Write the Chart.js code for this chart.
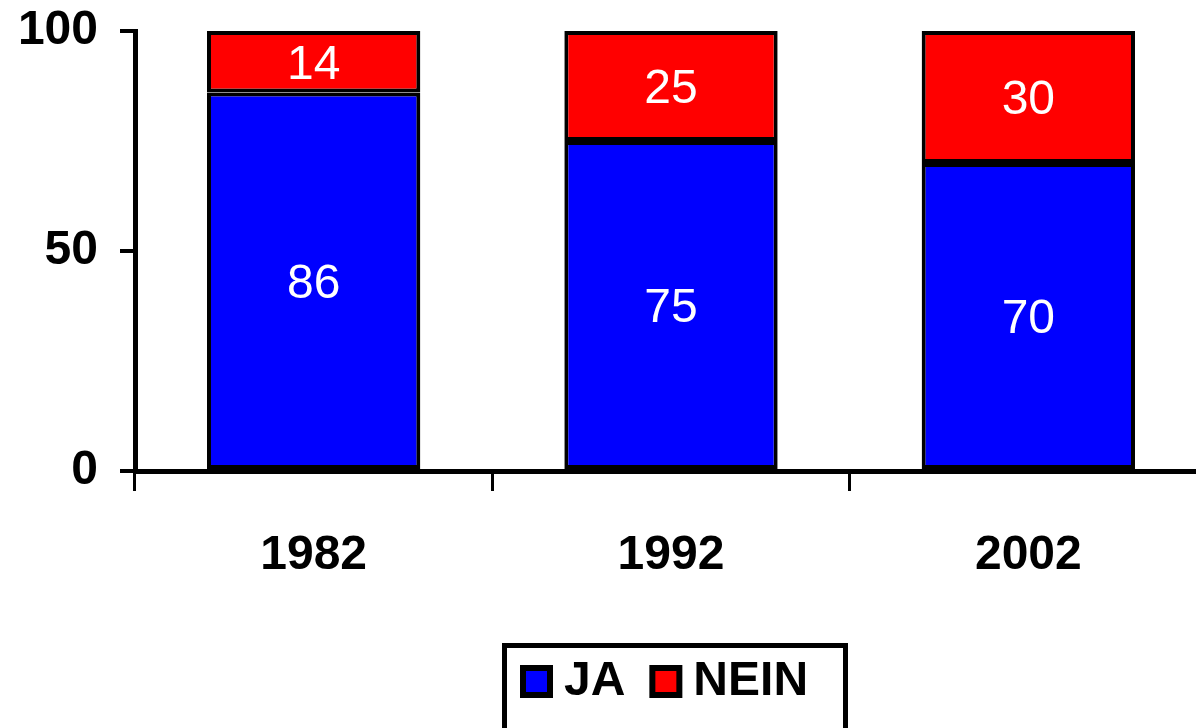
<!DOCTYPE html>
<html>
<head>
<meta charset="utf-8">
<script src="https://cdn.jsdelivr.net/npm/chart.js"></script>
<style>
  html, body { margin: 0; padding: 0; background: #fff; overflow: hidden; }
  #wrap { width: 1212px; height: 728px; }
</style>
</head>
<body>
<div id="wrap"><canvas id="chart"></canvas></div>
<script>
const years = ['1982', '1992', '2002'];
const jaValues = [86, 75, 70];
const neinValues = [14, 25, 30];
const yTicks = [0, 50, 100];

const FONT = '"Liberation Sans", Arial, sans-serif';

// white numbers in the middle of each segment
const segmentLabels = {
  id: 'segmentLabels',
  afterDatasetsDraw(chart) {
    const ctx = chart.ctx;
    ctx.save();
    ctx.fillStyle = '#fff';
    ctx.font = '48px ' + FONT;
    ctx.textAlign = 'center';
    ctx.textBaseline = 'middle';
    chart.data.datasets.forEach((ds, di) => {
      chart.getDatasetMeta(di).data.forEach((bar, i) => {
        const mid = (bar.y + bar.base) / 2 + 4;
        ctx.fillText(String(ds.data[i]), bar.x, mid);
      });
    });
    ctx.restore();
  },
};

// framed legend under the plot
const boxLegend = {
  id: 'boxLegend',
  afterDraw(chart) {
    const ctx = chart.ctx;
    ctx.save();
    ctx.lineWidth = 5;
    ctx.strokeStyle = '#000';
    ctx.strokeRect(504.5, 645.5, 341, 120);
    ctx.font = 'bold 48px ' + FONT;
    ctx.textBaseline = 'middle';
    ctx.textAlign = 'left';
    let x = 520;
    const y = 665;
    chart.data.datasets.forEach((ds) => {
      ctx.fillStyle = '#000';
      ctx.fillRect(x, y, 33, 33);
      ctx.fillStyle = ds.backgroundColor;
      ctx.fillRect(x + 6, y + 6, 21, 21);
      x += 44;
      ctx.fillStyle = '#000';
      ctx.fillText(ds.label, x, y + 17);
      x += ctx.measureText(ds.label).width + 24;
    });
    ctx.restore();
  },
};

new Chart(document.getElementById('chart'), {
  type: 'bar',
  data: {
    labels: years,
    datasets: [
      { label: 'JA', data: jaValues, backgroundColor: '#0000ff' },
      { label: 'NEIN', data: neinValues, backgroundColor: '#ff0000' },
    ],
  },
  options: {
    responsive: true,
    maintainAspectRatio: false,
    animation: false,
    layout: { padding: { top: 31, right: 5, left: 0, bottom: 0 } },
    datasets: {
      bar: {
        borderColor: '#000',
        borderWidth: 4,
        borderSkipped: false,
        barPercentage: 1,
        categoryPercentage: 0.597,
      },
    },
    plugins: {
      legend: { display: false },
      tooltip: { enabled: false },
    },
    scales: {
      x: {
        stacked: true,
        afterFit: (s) => { s.height = 257; s.paddingLeft = 0; s.paddingRight = 0; },
        border: { display: true, color: '#000', width: 5 },
        grid: {
          offset: true,
          drawOnChartArea: false,
          drawTicks: true,
          tickLength: 20,
          color: '#000',
          lineWidth: 3,
        },
        ticks: {
          color: '#000',
          font: { family: FONT, size: 48, weight: 'bold' },
          padding: 36,
        },
      },
      y: {
        stacked: true,
        min: 0,
        max: 100,
        afterFit: (s) => { s.width = 135; s.paddingTop = 0; s.paddingBottom = 0; },
        afterBuildTicks: (s) => { s.ticks = yTicks.map((v) => ({ value: v })); },
        border: { display: true, color: '#000', width: 5 },
        grid: {
          drawOnChartArea: false,
          tickLength: 15,
          color: '#000',
          lineWidth: 4,
        },
        ticks: {
          color: '#000',
          font: { family: FONT, size: 48, weight: 'bold' },
          padding: 22,
        },
      },
    },
  },
  plugins: [segmentLabels, boxLegend],
});
</script>
</body>
</html>
